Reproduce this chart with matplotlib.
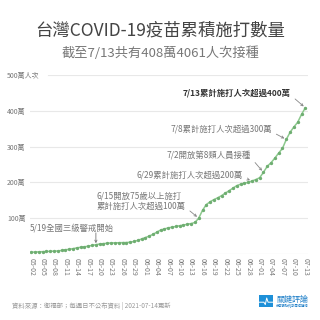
import numpy as np
import matplotlib
matplotlib.use('Agg')
import matplotlib.pyplot as plt

plt.rcParams['font.family'] = ['Noto Sans CJK TC', 'DejaVu Sans']

# === DATA === #
# cumulative doses (萬), one value per day from 05-02 to 07-13
dates = ['05-02', '05-03', '05-04', '05-05', '05-06', '05-07', '05-08', '05-09',
         '05-10', '05-11', '05-12', '05-13', '05-14', '05-15', '05-16', '05-17',
         '05-18', '05-19', '05-20', '05-21', '05-22', '05-23', '05-24', '05-25',
         '05-26', '05-27', '05-28', '05-29', '05-30', '05-31', '06-01', '06-02',
         '06-03', '06-04', '06-05', '06-06', '06-07', '06-08', '06-09', '06-10',
         '06-11', '06-12', '06-13', '06-14', '06-15', '06-16', '06-17', '06-18',
         '06-19', '06-20', '06-21', '06-22', '06-23', '06-24', '06-25', '06-26',
         '06-27', '06-28', '06-29', '06-30', '07-01', '07-02', '07-03', '07-04',
         '07-05', '07-06', '07-07', '07-08', '07-09', '07-10', '07-11', '07-12',
         '07-13']
doses = [5, 5.5, 6, 6.5, 7, 7.5, 8, 8.5,
         10, 12, 13, 15, 17, 19, 20, 22,
         24, 26, 28, 29, 30, 31, 31, 31.5,
         31.8, 32, 33, 35, 38, 42, 46, 50,
         55, 61, 67, 70, 73, 75, 77, 79,
         81, 83, 85, 88, 100, 122, 138, 146,
         152, 157, 163, 170, 177, 184, 191, 195,
         198, 200, 204, 208, 213, 228, 245, 255,
         268, 282, 295, 320, 340, 355, 368, 390,
         408.4]

y_ticks = [100, 200, 300, 400, 500]
y_labels = ['100萬', '200萬', '300萬', '400萬', '500萬人次']

# (date, text) for each event note
notes = [
    ('06-15', '6/15開放75歲以上施打\n累計施打人次超過100萬'),
    ('06-29', '6/29累計施打人次超過200萬'),
    ('07-02', '7/2開放第8類人員接種'),
    ('07-08', '7/8累計施打人次超過300萬'),
    ('07-13', '7/13累計施打人次超過400萬'),
]
alert_date = '05-19'
alert_text = '5/19全國三級警戒開始'

x = np.arange(len(dates))

# === PLOTTING === #
fig = plt.figure(figsize=(3.2, 3.2), dpi=100)
ax = fig.add_axes([30/320, 66/320, 278/320, 179/320])

for t in y_ticks[:-1]:
    ax.axhline(t, color='#e8e8e8', lw=0.8, zorder=0)
ax.axhline(500, xmin=0.065, color='#e8e8e8', lw=0.8, zorder=0)
ax.axhline(0, color='#d0d0d0', lw=0.8, zorder=0)

ax.plot(x, doses, '-', color='#8cc98d', lw=1.1, zorder=3)
ax.plot(x, doses, 'o', color='#6fae72', ms=1.4, zorder=4)

ax.set_xlim(-0.3, 72.7)
ax.set_ylim(0, 500)
for s in ax.spines.values():
    s.set_visible(False)

ax.set_xticks(x[::3])
ax.set_xticklabels(dates[::3], rotation=270, fontsize=5, color='#777777')
ax.tick_params(axis='x', length=0, pad=3)
ax.set_yticks(y_ticks)
ax.set_yticklabels(y_labels, fontsize=5, color='#777777', ha='left')
ax.tick_params(axis='y', length=0, pad=16.5)

# 5/19 note: text above, short vertical arrow down to the line
i = dates.index(alert_date)
ax.annotate('', xy=(i, doses[i] + 4), xytext=(i, doses[i] + 33),
            arrowprops=dict(arrowstyle='->', color='#777777', lw=0.6,
                            mutation_scale=4, shrinkA=0, shrinkB=0))
ax.text(-0.3, doses[i] + 47, alert_text, fontsize=6, color='#777777',
        ha='left', va='center')

# text right edge offset (points) from the point each arrow aims at
offsets = [(-9.5, 12), (-6.5, 4.5), (-9, 12.5), (-10.5, 7.5), (-10.5, 11)]
for (d, txt), off in zip(notes, offsets):
    i = dates.index(d)
    is_last = d == '07-13'
    ax.annotate(txt, xy=(i, doses[i]), xytext=off, textcoords='offset points',
                fontsize=6, color='#333333' if is_last else '#777777',
                fontweight='bold' if is_last else 'normal',
                ha='right', va='center', multialignment='left',
                arrowprops=dict(arrowstyle='->', color='#888888', lw=0.6,
                                mutation_scale=4, shrinkA=1.5, shrinkB=1.5,
                                relpos=(1, 0.2)))

fig.text(0.5, 0.905, '台灣COVID-19疫苗累積施打數量', ha='center', va='center',
         fontsize=12.5, color='#444444')
fig.text(0.5, 0.835, '截至7/13共有408萬4061人次接種', ha='center', va='center',
         fontsize=9.5, color='#777777')

fig.text(12/320, 1 - 306/320, '資料來源：衛福部；每週日不公布資料 | 2021-07-14更新',
         ha='left', va='center', fontsize=4.6, color='#999999')

# logo
logo = fig.add_axes([259/320, 1 - 307/320, 14/320, 12/320])
logo.set_facecolor('#1e90d8')
logo.plot([0, 0.35, 0.45, 0.55, 0.65, 1], [0.4, 0.4, 0.2, 0.75, 0.4, 0.4],
          color='white', lw=0.7)
logo.set_xlim(0, 1)
logo.set_ylim(0, 1)
logo.set_xticks([])
logo.set_yticks([])
for s in logo.spines.values():
    s.set_visible(False)
fig.text(276/320, 1 - 299/320, '關鍵評論', ha='left', va='center',
         fontsize=5.8, color='#1e7fc8')
fig.text(276/320, 1 - 305.5/320, '分享觀點的新聞媒體網', ha='left', va='center',
         fontsize=2.3, color='#1e7fc8')

plt.savefig('out.png', dpi=100)
